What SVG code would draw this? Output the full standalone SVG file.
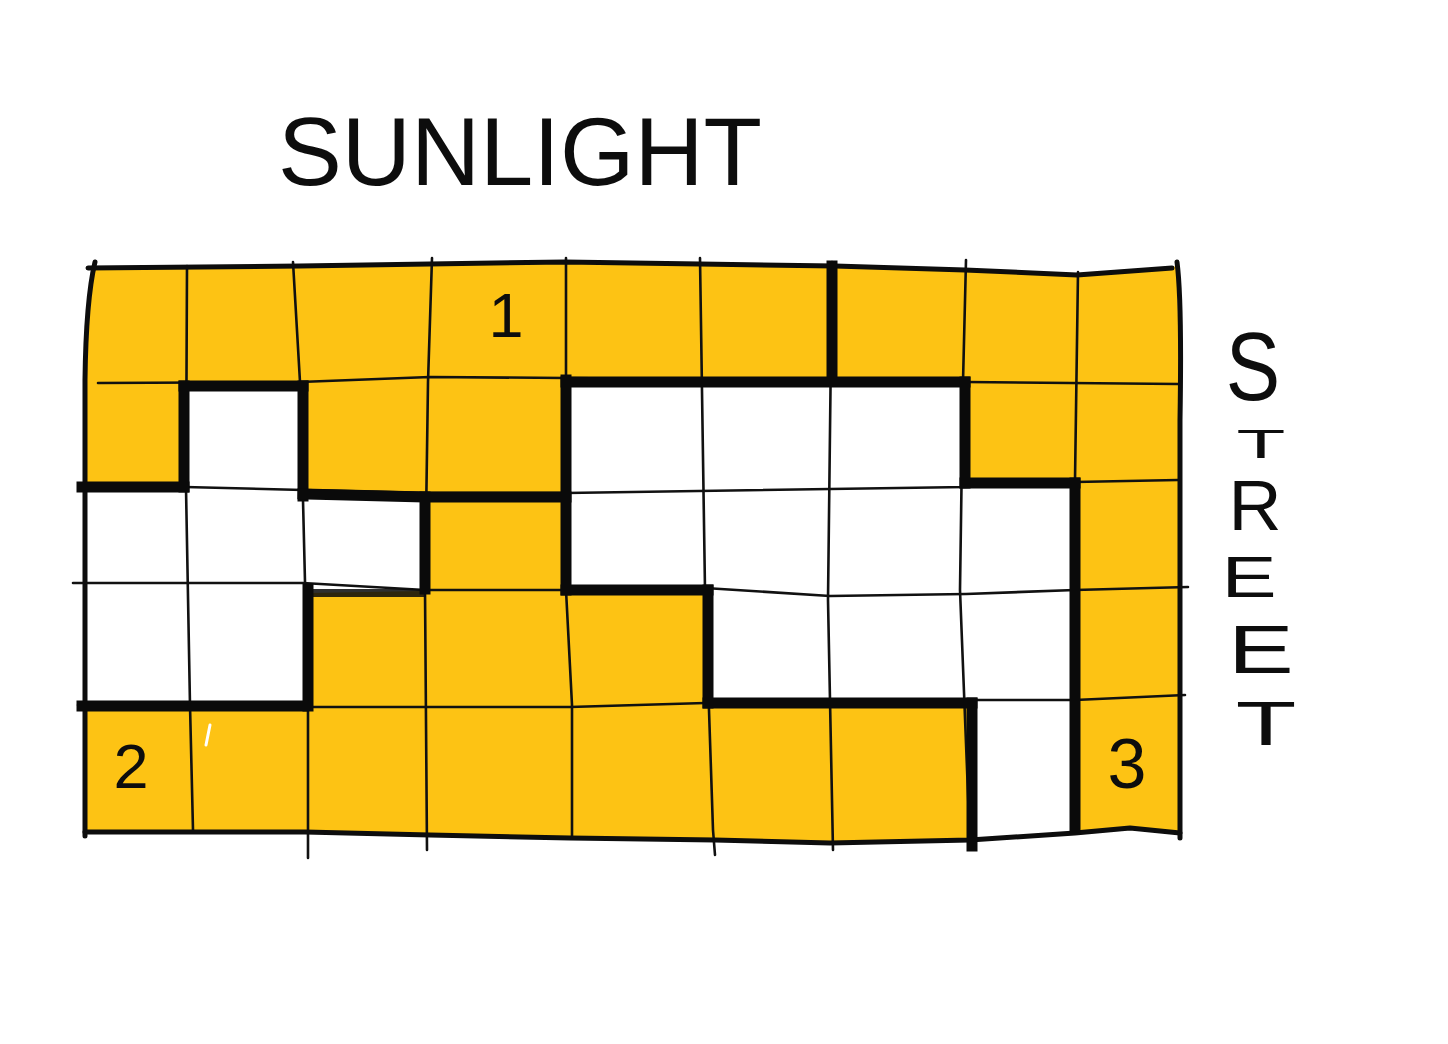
<svg xmlns="http://www.w3.org/2000/svg" width="1448" height="1044" viewBox="0 0 1448 1044">
  <style>
    .sun { fill: #FDC314; }
    .shade { fill: #FFFFFF; }
    .thin { fill: none; stroke: #111111; stroke-width: 2.6; stroke-linecap: round; stroke-linejoin: round; }
    .edge { fill: none; stroke: #0d0d0d; stroke-width: 5; stroke-linecap: round; stroke-linejoin: round; }
    .wall { fill: none; stroke: #0a0a0a; stroke-width: 11; stroke-linecap: square; stroke-linejoin: miter; }
    .hand { font-family: "Liberation Sans", "DejaVu Sans", sans-serif; fill: #0d0d0d; }
    .mid { text-anchor: middle; }
  </style>
  <rect width="1448" height="1044" fill="#FFFFFF"/>

  <g id="cells">
    <path class="sun" d="M93,268 L300,265 L565,262 L700,264 L835,265 L965,270 L1077,275 L1172,268 L1177,265 L1180,420 L1178,833 L1130,830 L1075,833 L970,840 L830,843 L715,840 L570,838 L430,835 L305,832 L85,832 L85,380 Z"/>
    <path id="shade-left" class="shade" d="M185,387 L303,387 L303,494 L425,497 L425,591 L308,593 L308,706 L85,706 L85,487 L185,487 Z"/>
    <path id="shade-right" class="shade" d="M566,382 L965,382 L965,483 L1075,483 L1075,833 L972,838 L972,703 L708,703 L708,590 L566,590 Z"/>
    <path d="M210,725 L206,745" stroke="#FFFFFF" stroke-width="3" stroke-linecap="round" fill="none"/>
  </g>

  <g id="grid">
    <path class="thin" d="M187,266 L186,488 L190,705 L193,830"/>
    <path class="thin" d="M293,262 L300,382 L303,500 L308,705 L308,858"/>
    <path class="thin" d="M432,258 L428,382 L425,590 L427,850"/>
    <path class="thin" d="M566,258 L566,590 L572,705 L572,838"/>
    <path class="thin" d="M700,258 L705,590 L713,830 L715,855"/>
    <path class="thin" d="M832,262 L828,600 L833,850"/>
    <path class="thin" d="M966,260 L963,382 L960,590 L970,845"/>
    <path class="thin" d="M1078,272 L1075,480 L1075,830"/>
    <path class="thin" d="M98,383 L300,382 L430,377 L566,378 L966,382 L1178,384"/>
    <path class="thin" d="M82,487 L185,487 L303,490 L430,493 L566,493 L966,487 L1075,482 L1178,480"/>
    <path class="thin" d="M73,583 L303,583 L425,590 L566,590 L705,588 L830,596 L966,594 L1075,590 L1188,587"/>
    <path class="thin" d="M78,705 L308,707 L570,707 L705,703 L975,700 L1075,700 L1185,695"/>
  </g>

  <g id="border">
    <path class="edge" d="M88,268 L300,266 L565,262 L700,264 L835,266 L965,270 L1077,275 L1172,268"/>
    <path class="edge" d="M95,262 Q86,300 85,380 L85,836"/>
    <path class="edge" d="M85,832 L305,832 L430,835 L570,838 L715,840 L830,843 L970,840 L1075,833 L1130,828 L1180,833"/>
    <path class="edge" d="M1177,262 Q1182,300 1180,420 L1180,838"/>
  </g>

  <g id="walls">
    <path class="wall" d="M82,487 L184,487"/>
    <path class="wall" d="M184,386 L184,487"/>
    <path class="wall" d="M184,386 L303,386"/>
    <path class="wall" d="M303,386 L303,496"/>
    <path class="wall" d="M303,494 L425,497 L566,497"/>
    <path class="wall" d="M425,497 L425,589"/>
    <path class="wall" d="M566,380 L566,590"/>
    <path class="wall" d="M566,382 L965,382"/>
    <path class="wall" d="M832,266 L832,380"/>
    <path class="wall" d="M965,382 L965,483"/>
    <path class="wall" d="M965,483 L1075,483"/>
    <path class="wall" d="M1075,483 L1075,828"/>
    <path class="wall" d="M566,590 L708,590"/>
    <path class="wall" d="M708,590 L708,703"/>
    <path class="wall" d="M708,703 L972,703"/>
    <path class="wall" d="M972,703 L972,846"/>
    <path class="wall" d="M308,589 L308,706"/>
    <path class="wall" d="M312,593 L422,593" style="stroke-width:8;opacity:0.85"/>
    <path class="wall" d="M82,706 L303,706"/>
  </g>

  <g id="labels">
    <text class="hand" x="278" y="185" font-size="96" textLength="484" lengthAdjust="spacingAndGlyphs">SUNLIGHT</text>
    <g id="street">
      <text class="hand mid" transform="translate(1253,400) scale(0.85,1)" font-size="96">S</text>
      <text class="hand mid" transform="translate(1261,458) scale(2,1)" font-size="40">T</text>
      <text class="hand mid" transform="translate(1255,530) scale(1.05,1)" font-size="70">R</text>
      <text class="hand mid" transform="translate(1249,597) scale(1.45,1)" font-size="57">E</text>
      <text class="hand mid" transform="translate(1261,673) scale(1.45,1)" font-size="68">E</text>
      <text class="hand mid" transform="translate(1266,745) scale(1.6,1)" font-size="62">T</text>
    </g>
    <text class="hand mid" x="506" y="337" font-size="63">1</text>
    <text class="hand mid" x="131" y="788" font-size="63">2</text>
    <text class="hand mid" x="1127" y="788" font-size="70">3</text>
  </g>
</svg>
